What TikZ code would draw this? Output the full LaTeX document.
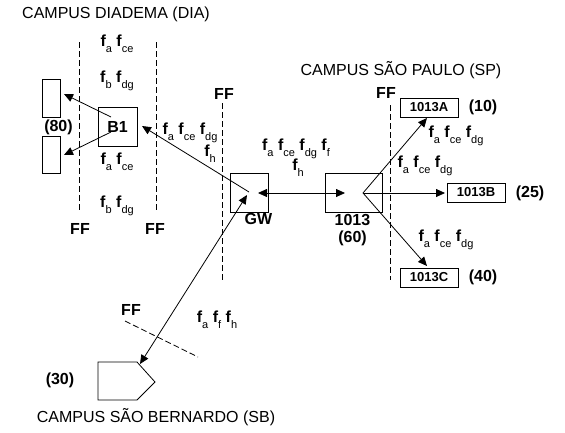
\documentclass[tikz,border=0pt]{standalone}
\usepackage{fontspec}
\setmainfont{Liberation Sans}
\usetikzlibrary{arrows.meta}
\newcommand{\fsub}[1]{\textbf{f}\raisebox{-6pt}{\fontsize{11}{11}\selectfont #1}}

\begin{document}
\begin{tikzpicture}[x=1pt, y=-1pt, line width=0.8pt,
    ttl/.style={font=\fontsize{16}{19}\selectfont, inner sep=0pt},
    lbl/.style={font=\fontsize{16}{19}\selectfont\bfseries, inner sep=0pt},
    flbl/.style={font=\fontsize{16}{19}\selectfont, inner sep=0pt},
    cbox/.style={draw, inner sep=0pt, minimum height=39pt, font=\fontsize{16}{19}\selectfont\bfseries},
    tbox/.style={draw, inner sep=0pt, minimum width=58pt, minimum height=19pt, font=\fontsize{13}{13}\selectfont\bfseries},
    wall/.style={dash pattern=on 6pt off 3pt},
    arr/.style={-{Triangle[length=9pt, width=8pt]}},
    darr/.style={{Triangle[length=9pt, width=8pt]}-{Triangle[length=9pt, width=8pt]}}]
  \useasboundingbox (0,0) rectangle (565,432);

  \node[ttl] (dia) at (116,14) {CAMPUS DIADEMA (DIA)};
  \node[ttl] (sp) at (401,70) {CAMPUS SÃO PAULO (SP)};
  \node[ttl] (sb) at (156,417) {CAMPUS SÃO BERNARDO (SB)};

  \draw[wall] (79,42) -- (79,212);
  \draw[wall] (156,42) -- (156,212);
  \draw[wall] (222,103) -- (222,282);
  \draw[wall] (390,105) -- (390,280);
  \draw[wall] (125,321) -- (198,357);
  \node[lbl] (ff1) at (80,229) {FF};
  \node[lbl] (ff2) at (155,229) {FF};
  \node[lbl] (ff3) at (224,94) {FF};
  \node[lbl] (ff4) at (386,93) {FF};
  \node[lbl] (ff5) at (131,310) {FF};

  \node[draw, minimum width=18pt, minimum height=38pt, inner sep=0pt] (lab1) at (51,98) {};
  \node[draw, minimum width=18pt, minimum height=37pt, inner sep=0pt] (lab2) at (51,154.5) {};
  \node[lbl] (n80) at (58.5,127) {(80)};
  \node[cbox, minimum width=39pt] (b1) at (117.5,126.5) {B1};
  \node[cbox, minimum width=38pt] (gw) at (249,192.5) {};
  \node[lbl] (gwl) at (258.5,219) {GW};
  \node[cbox, minimum width=57pt] (u1013) at (353.5,192.5) {};
  \node[lbl] (u1013l) at (352.5,220) {1013};
  \node[lbl] (n60) at (352.5,238.5) {(60)};
  \node[tbox] (ua) at (429,107.5) {1013A};
  \node[tbox] (ub) at (476,192.5) {1013B};
  \node[tbox] (uc) at (429,277.5) {1013C};
  \node[lbl] (n10) at (483,107) {(10)};
  \node[lbl] (n25) at (530,193) {(25)};
  \node[lbl] (n40) at (483,277) {(40)};
  \draw (98,362) -- (137,362) -- (155,382) -- (137,400) -- (98,400) -- cycle;
  \node[lbl] (n30) at (60,380) {(30)};

  \node[flbl] (fd1) at (117,44) {\fsub{a} \fsub{ce}};
  \node[flbl] (fd2) at (117,81) {\fsub{b} \fsub{dg}};
  \node[flbl] (fd3) at (117,162) {\fsub{a} \fsub{ce}};
  \node[flbl] (fd4) at (117,206) {\fsub{b} \fsub{dg}};
  \node[flbl] (fg1) at (190,133) {\fsub{a} \fsub{ce} \fsub{dg}};
  \node[flbl] (fg2) at (210,154) {\fsub{h}};
  \node[flbl] (fm1) at (296,149) {\fsub{a} \fsub{ce} \fsub{dg} \fsub{f}};
  \node[flbl] (fm2) at (298,168) {\fsub{h}};
  \node[flbl] (fa) at (456,136) {\fsub{a} \fsub{ce} \fsub{dg}};
  \node[flbl] (fb) at (425,166) {\fsub{a} \fsub{ce} \fsub{dg}};
  \node[flbl] (fc) at (446,240) {\fsub{a} \fsub{ce} \fsub{dg}};
  \node[flbl] (fs) at (217,320) {\fsub{a} \fsub{f} \fsub{h}};

  \coordinate (b1a) at (111,117);
  \coordinate (b1b) at (111,132);
  \coordinate (l1t) at (64,94);
  \coordinate (l2t) at (64,155);
  \coordinate (b1t) at (142,126);
  \coordinate (gwc) at (249,192);
  \coordinate (gws) at (247,195);
  \coordinate (gwr) at (258,193);
  \coordinate (u13l) at (345,193);
  \coordinate (fan) at (363,193);
  \coordinate (at) at (427,118);
  \coordinate (bt) at (445,193);
  \coordinate (ct) at (427,266);
  \coordinate (sbt) at (140,364);

  \draw[arr] (b1a) -- (l1t);
  \draw[arr] (b1b) -- (l2t);
  \draw[arr] (gwc) -- (b1t);
  \draw[darr] (gwr) -- (u13l);
  \draw[arr] (fan) -- (at);
  \draw[arr] (fan) -- (bt);
  \draw[arr] (fan) -- (ct);
  \draw[darr] (sbt) -- (gws);
\end{tikzpicture}
\end{document}
